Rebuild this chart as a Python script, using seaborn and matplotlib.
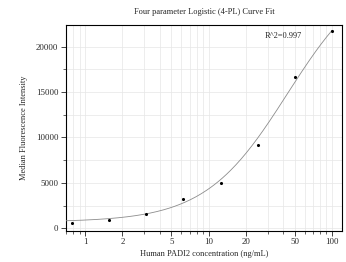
import numpy as np
import pandas as pd
import seaborn as sns
import matplotlib.pyplot as plt
from matplotlib.ticker import LogLocator, FixedLocator, MultipleLocator, NullFormatter

# standard points (ng/mL) and measured MFI
conc = [0.78125, 1.5625, 3.125, 6.25, 12.5, 25, 50, 100]
mfi = [620, 880, 1520, 3200, 5000, 9200, 16650, 21750]

# 4-PL fit parameters (bottom, top, ec50, hill)
fit_a, fit_d, fit_c, fit_b = 700, 28950, 43.5, 1.3
r2_text = "R^2=0.997"

x_ticks = [1, 2, 5, 10, 20, 50, 100]
x_tick_labels = ["1", "2", "5", "10", "20", "50", "100"]


def four_pl(x):
    return fit_d + (fit_a - fit_d) / (1 + (x / fit_c) ** fit_b)


def main():
    sns.set_style("ticks")
    plt.rcParams["font.family"] = ["Liberation Serif", "DejaVu Serif"]
    plt.rcParams["font.size"] = 6

    fig = plt.figure(figsize=(3.46, 2.62), dpi=100)
    ax = fig.add_axes([0.191, 0.12, 0.797, 0.785])

    xs = np.logspace(np.log10(0.7), np.log10(100), 200)
    curve = pd.DataFrame({"x": xs, "y": four_pl(xs)})
    pts = pd.DataFrame({"x": conc, "y": mfi})

    sns.lineplot(data=curve, x="x", y="y", ax=ax, color="#8c8c8c", linewidth=0.6, zorder=3)
    sns.scatterplot(data=pts, x="x", y="y", ax=ax, color="black", marker="o", s=5,
                    linewidth=0, zorder=4)

    ax.set_xscale("log")
    ax.set_xlim(0.70, 120)
    ax.set_ylim(-250, 22400)

    ax.xaxis.set_major_locator(FixedLocator(x_ticks))
    ax.set_xticklabels(x_tick_labels)
    ax.xaxis.set_minor_locator(LogLocator(base=10, subs=np.arange(1, 10)))
    ax.xaxis.set_minor_formatter(NullFormatter())
    ax.yaxis.set_major_locator(MultipleLocator(5000))
    ax.yaxis.set_minor_locator(MultipleLocator(2500))

    ax.grid(True, which="both", color="#e6e6e6", linewidth=0.5)
    ax.set_axisbelow(True)
    ax.tick_params(which="major", direction="out", length=3.5, width=0.6, pad=2, labelsize=6.3)
    ax.tick_params(which="minor", direction="out", length=2, width=0.5)
    for sp in ax.spines.values():
        sp.set_linewidth(0.8)
        sp.set_color("black")

    ax.set_title("Four parameter Logistic (4-PL) Curve Fit", fontsize=6, pad=8)
    ax.set_xlabel("Human PADI2 concentration (ng/mL)", fontsize=6, labelpad=3)
    ax.set_ylabel("Median Fluorescence Intensity", fontsize=6, labelpad=6)
    ax.text(0.72, 0.945, r2_text, transform=ax.transAxes, fontsize=6, va="center")

    fig.savefig("out.png", dpi=100)


if __name__ == "__main__":
    main()
